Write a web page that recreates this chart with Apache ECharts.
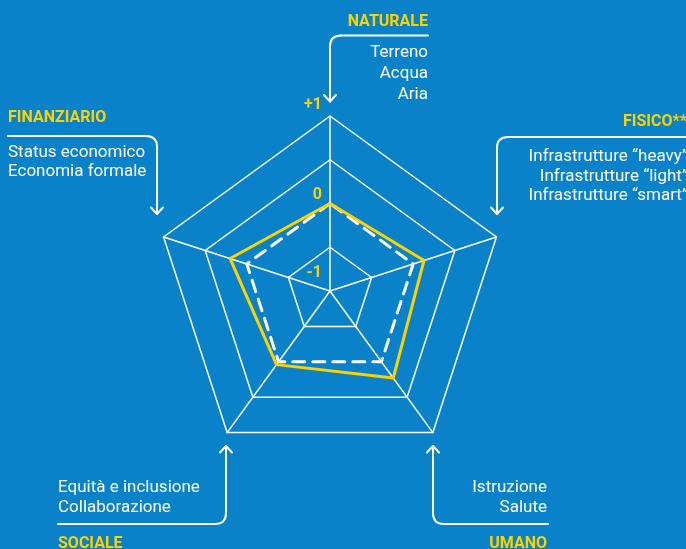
<!DOCTYPE html>
<html>
<head>
<meta charset="utf-8">
<script src="https://cdn.jsdelivr.net/npm/echarts@6/dist/echarts.min.js"></script>
<style>
html,body{margin:0;padding:0;background:#0a82c9;}
#chart{width:686px;height:549px;}
</style>
</head>
<body>
<div id="chart"></div>
<script>
// Data
const indicators = ['NATURALE', 'FINANZIARIO', 'SOCIALE', 'UMANO', 'FISICO**'];
const baseline = [0, 0, 0, 0, 0];
const values = [0, 0.2, 0.04, 0.23, 0.13];
const tickLabels = {'-1': '{c|-1}', '0': '{b|0}', '1': '{a|+1}'};

const FONT = '"Roboto", sans-serif';
const WHITE = '#ffffff';
const YELLOW = '#fcd200';
const BG = '#0a82c9';

function txt(text, x, y, align, bold) {
  return {
    type: 'text', x: x, y: y, silent: true,
    style: {
      text: text, fill: bold ? YELLOW : WHITE,
      font: (bold ? 'bold 16px ' : '17px ') + FONT,
      align: align, verticalAlign: 'middle'
    }
  };
}
const lineStyle = { stroke: WHITE, lineWidth: 2, fill: null, lineCap: 'round', lineJoin: 'round' };
function pl(points) {
  return { type: 'polyline', silent: true, shape: { points: points }, style: lineStyle };
}
function corner(x1, y1, cx, cy, x2, y2) {
  return { type: 'bezierCurve', silent: true,
    shape: { x1: x1, y1: y1, cpx1: cx, cpy1: cy, x2: x2, y2: y2 }, style: lineStyle };
}
// elbow: horizontal line from (hx,hy) to corner at (vx,hy), then vertical to tip (vx,ty)
function elbow(hx, hy, vx, ty) {
  const r = 11;
  const dx = hx > vx ? r : -r;
  const dy = ty > hy ? r : -r;
  const ad = ty > hy ? -6.5 : 6.5;
  return [
    pl([[hx, hy], [vx + dx, hy]]),
    corner(vx + dx, hy, vx, hy, vx, hy + dy),
    pl([[vx, hy + dy], [vx, ty]]),
    pl([[vx - 6, ty + ad], [vx, ty], [vx + 6, ty + ad]])
  ];
}

const graphics = [
  txt('NATURALE', 428, 21.5, 'right', true),
  txt('Terreno', 428, 53, 'right'),
  txt('Acqua', 428, 74, 'right'),
  txt('Aria', 428, 95, 'right'),
  txt('FINANZIARIO', 8, 118, 'left', true),
  txt('Status economico', 8, 153, 'left'),
  txt('Economia formale', 8, 172, 'left'),
  txt('FISICO**', 687, 121.5, 'right', true),
  txt('Infrastrutture \u201cheavy\u201d', 688, 157, 'right'),
  txt('Infrastrutture \u201clight\u201d', 688, 177, 'right'),
  txt('Infrastrutture \u201csmart\u201d', 688, 196, 'right'),
  txt('Equit\u00e0 e inclusione', 58, 488, 'left'),
  txt('Collaborazione', 58, 508, 'left'),
  txt('SOCIALE', 58, 544, 'left', true),
  txt('Istruzione', 547, 488, 'right'),
  txt('Salute', 547, 508, 'right'),
  txt('UMANO', 547, 544, 'right', true)
].concat(
  elbow(428, 35.5, 330, 101.5),
  elbow(8, 136, 157, 214),
  elbow(690, 137, 497, 214),
  elbow(58, 524, 226, 446),
  elbow(548, 524, 433, 446)
);

const chart = echarts.init(document.getElementById('chart'));
chart.setOption({
  backgroundColor: BG,
  animation: false,
  radar: {
    center: [330, 291],
    radius: 175,
    startAngle: 90,
    shape: 'polygon',
    splitNumber: 4,
    indicator: indicators.map(function (n, i) {
      const o = { name: n, min: -1, max: 1 };
      if (i === 0) {
        o.axisLabel = {
          show: true,
          color: YELLOW,
          fontFamily: FONT,
          fontWeight: 'bold',
          fontSize: 16,
          formatter: function (v) {
            const k = String(Math.round(v * 100) / 100);
            return tickLabels[k] !== undefined ? tickLabels[k] : '';
          },
          rich: {
            a: { color: YELLOW, fontWeight: 'bold', fontSize: 16, fontFamily: FONT, padding: [0, 0, 22, 0] },
            b: { color: YELLOW, fontWeight: 'bold', fontSize: 16, fontFamily: FONT, padding: [0, 0, 17, 0] },
            c: { color: YELLOW, fontWeight: 'bold', fontSize: 16, fontFamily: FONT, padding: [0, 0, 37, 0] }
          }
        };
      }
      return o;
    }),
    axisName: { show: false },
    axisLabel: { show: false },
    axisLine: { lineStyle: { color: WHITE, width: 1.5 } },
    axisTick: { show: false },
    splitLine: { lineStyle: { color: [WHITE, WHITE, 'rgba(0,0,0,0)', WHITE, WHITE], width: 1.5 } },
    splitArea: { show: false }
  },
  series: [
    {
      type: 'radar', symbol: 'none', z: 2,
      lineStyle: { color: WHITE, width: 3, type: [12, 8], cap: 'round' },
      data: [{ value: baseline, name: 'baseline' }]
    },
    {
      type: 'radar', symbol: 'none', z: 3,
      lineStyle: { color: YELLOW, width: 3 },
      data: [{ value: values, name: 'valori' }]
    }
  ],
  graphic: graphics
});
</script>
</body>
</html>
